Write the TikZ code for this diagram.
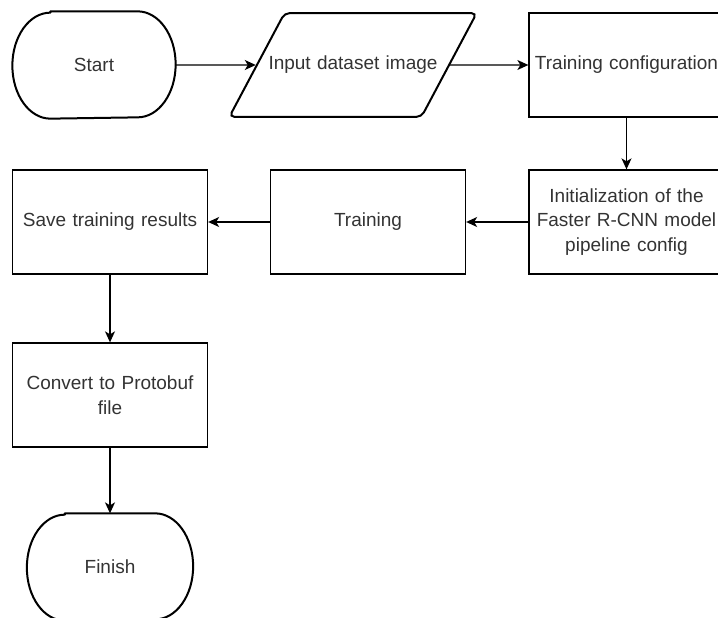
\documentclass[tikz,border=0pt]{standalone}
\usepackage{fontspec}
\setmainfont{Liberation Sans}
\usetikzlibrary{positioning,shapes.geometric,arrows.meta}
\begin{document}
\begin{tikzpicture}[x=1pt, y=-1pt, auto]
\tikzstyle{block} = [rectangle, draw, line width=1.3pt, minimum width=195pt, minimum height=104pt,
                     text width=190pt, align=center, inner sep=1pt, text=black!80,
                     font=\fontsize{19}{24.5}\selectfont]
\tikzstyle{term} = [block, draw=none, minimum width=162pt, minimum height=106pt, text width=150pt,
                    append after command={\pgfextra{\draw[line width=2pt, line join=round]
                      ([xshift=38pt]\tikzlastnode.north west) -- ([xshift=-38pt]\tikzlastnode.north east)
                      arc[start angle=90, end angle=-90, x radius=38pt, y radius=53pt]
                      -- ([xshift=38pt]\tikzlastnode.south west)
                      arc[start angle=270, end angle=90, x radius=38pt, y radius=53pt] -- cycle;}}]
\tikzstyle{io} = [block, trapezium, trapezium left angle=62, trapezium right angle=118,
                  trapezium stretches body, line width=2pt, rounded corners=5pt,
                  minimum width=0pt, minimum height=0pt, inner ysep=43pt, inner xsep=-16.5pt,
                  text width=170pt]
\tikzstyle{line} = [draw, line width=1.3pt, -{Stealth[length=11pt, width=10pt, inset=3pt]}]

\useasboundingbox (0,0) rectangle (718,618);
\clip (0,0) rectangle (718,618);

\node [term] (start) at (94,65) {Start};
\node [io, right of=start, node distance=259pt] (input) {Input dataset image};
\node [block, right of=input, node distance=273.5pt] (tconf) {Training configuration};
\node [block, below of=tconf, node distance=157pt] (init) {Initialization of the\\Faster R-CNN model\\pipeline config};
\node [block, left of=init, node distance=258.5pt] (train) {Training};
\node [block, left of=train, node distance=258pt] (save) {Save training results};
\node [block, below of=save, node distance=173pt] (conv) {Convert to Protobuf\\file};
\node [term, below of=conv, node distance=172pt, minimum width=165pt] (finish) {Finish};

\path [line] (start) -- (input);
\path [line] (input) -- (tconf);
\path [line] (tconf) -- (init);
\path [line] (init) -- (train);
\path [line] (train) -- (save);
\path [line] (save) -- (conv);
\path [line] (conv) -- (finish);
\end{tikzpicture}
\end{document}
